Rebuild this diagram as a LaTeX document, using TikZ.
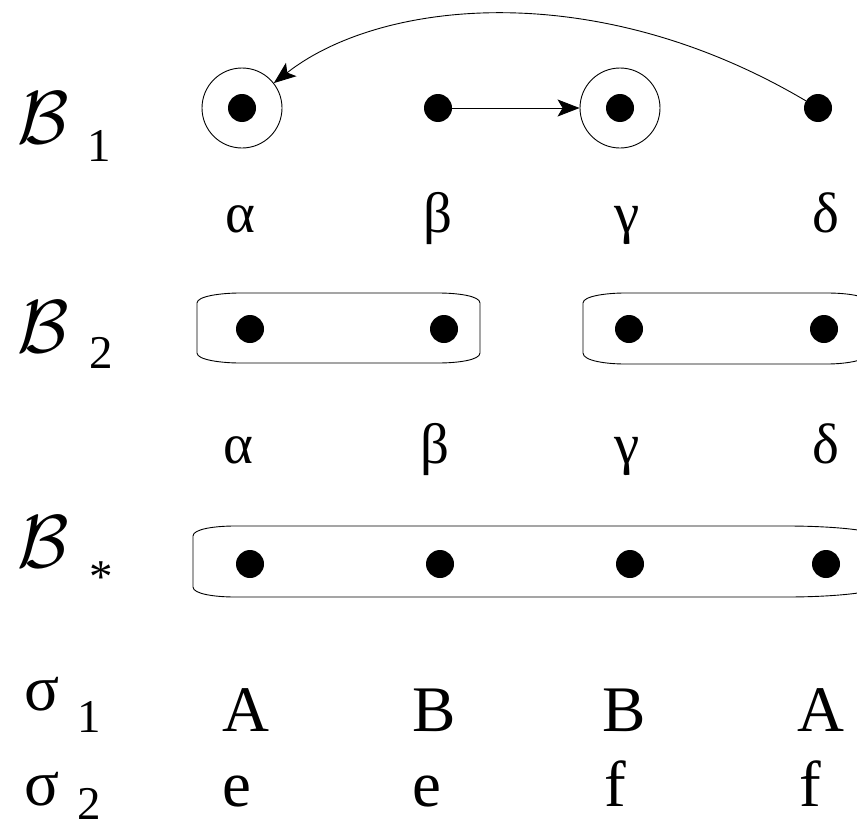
\documentclass[tikz,border=0pt]{standalone}
\usepackage{graphicx}
\usepackage{fontspec}
\setmainfont{LiberationSerif-Regular.ttf}
\newfontfamily\tms{LiberationSerif-Regular.ttf}
\usetikzlibrary{arrows.meta}
\tikzset{
  dot/.style={circle,fill=black,inner sep=0pt,minimum size=28pt},
  ring/.style={circle,draw=black,line width=0.9pt,inner sep=0pt,minimum size=80pt},
  grk/.style={anchor=base,inner sep=0pt,font=\tms\fontsize{57}{60}\selectfont},
  big/.style={anchor=base west,inner sep=0pt,font=\tms\fontsize{65}{70}\selectfont},
  cal/.style={anchor=base,inner sep=0pt},
  sub/.style={anchor=base,inner sep=0pt,font=\tms\fontsize{47}{50}\selectfont},
  boxline/.style={draw=black,line width=0.9pt},
  arr/.style={line width=0.9pt,-{Stealth[length=22pt,width=17pt,inset=5pt]}}
}
\newcommand{\calB}{\scalebox{7.5}{$\mathcal{B}$}}
\begin{document}
\begin{tikzpicture}[x=1pt,y=-1pt]
\useasboundingbox (0,0) rectangle (857,819);
\clip (0,0) rectangle (857,819);
% row labels
\node[cal] (L1) at (43,143) {\calB};
\node[sub] (S1) at (99,161) {1};
\node[cal] (L2) at (43,352) {\calB};
\node[sub] (S2) at (101,368) {2};
\node[cal] (L3) at (43,567) {\calB};
\node[sub] (S3) at (101,592) {*};
% row B1
\node[dot] (a1) at (242,108) {};
\node[dot] (b1) at (438,108) {};
\node[dot] (g1) at (620,108) {};
\node[dot] (d1) at (818,108) {};
\node[ring] (ca) at (242,108) {};
\node[ring] (cg) at (620,108) {};
\draw[arr] (b1) -- (cg);
\draw[arr] (d1) .. controls (595,-24) and (380,0) .. (ca);
% greek row 1
\node[grk] (ga1) at (240,232) {α};
\node[grk] (gb1) at (438,232) {β};
\node[grk] (gg1) at (627,232) {γ};
\node[grk] (gd1) at (826,232) {δ};
% row B2
\draw[boxline] (197,303) .. controls (197,296) and (222,293) .. (240,293) -- (438,293)
  .. controls (458,293) and (480,296) .. (480,303) -- (480,353)
  .. controls (480,360) and (458,363) .. (438,363) -- (240,363)
  .. controls (222,363) and (197,360) .. (197,353) -- cycle;
\draw[boxline] (583,303) .. controls (583,296) and (607,293) .. (625,293) -- (827,293)
  .. controls (847,293) and (869,296) .. (869,303) -- (869,353)
  .. controls (869,360) and (847,364) .. (827,364) -- (625,364)
  .. controls (607,364) and (583,361) .. (583,353) -- cycle;
\node[dot] (a2) at (250,329) {};
\node[dot] (b2) at (444,329) {};
\node[dot] (g2) at (629,329) {};
\node[dot] (d2) at (824,329) {};
% greek row 2
\node[grk] (ga2) at (238,463) {α};
\node[grk] (gb2) at (435,463) {β};
\node[grk] (gg2) at (627,463) {γ};
\node[grk] (gd2) at (826,463) {δ};
% row B*
\draw[boxline] (193,536) .. controls (193,529) and (215,526) .. (235,526) -- (787,526)
  .. controls (830,526) and (885,530) .. (885,540) -- (885,583)
  .. controls (885,593) and (830,597) .. (787,597) -- (235,597)
  .. controls (215,597) and (193,594) .. (193,587) -- cycle;
\node[dot] (a3) at (250,564) {};
\node[dot] (b3) at (440,564) {};
\node[dot] (g3) at (630,564) {};
\node[dot] (d3) at (826,564) {};
% sigma rows
\node[big] (s1) at (24,710) {σ};
\node[sub] (s1i) at (89,732) {1};
\node[big] (A1) at (222,731) {A};
\node[big] (B1) at (412,731) {B};
\node[big] (B2) at (602,731) {B};
\node[big] (A2) at (797,731) {A};
\node[big] (s2) at (24,805) {σ};
\node[sub] (s2i) at (89,819) {2};
\node[big] (e1) at (222,806) {e};
\node[big] (e2) at (412,806) {e};
\node[big] (f1) at (604,806) {f};
\node[big] (f2) at (799,806) {f};
\end{tikzpicture}
\end{document}
